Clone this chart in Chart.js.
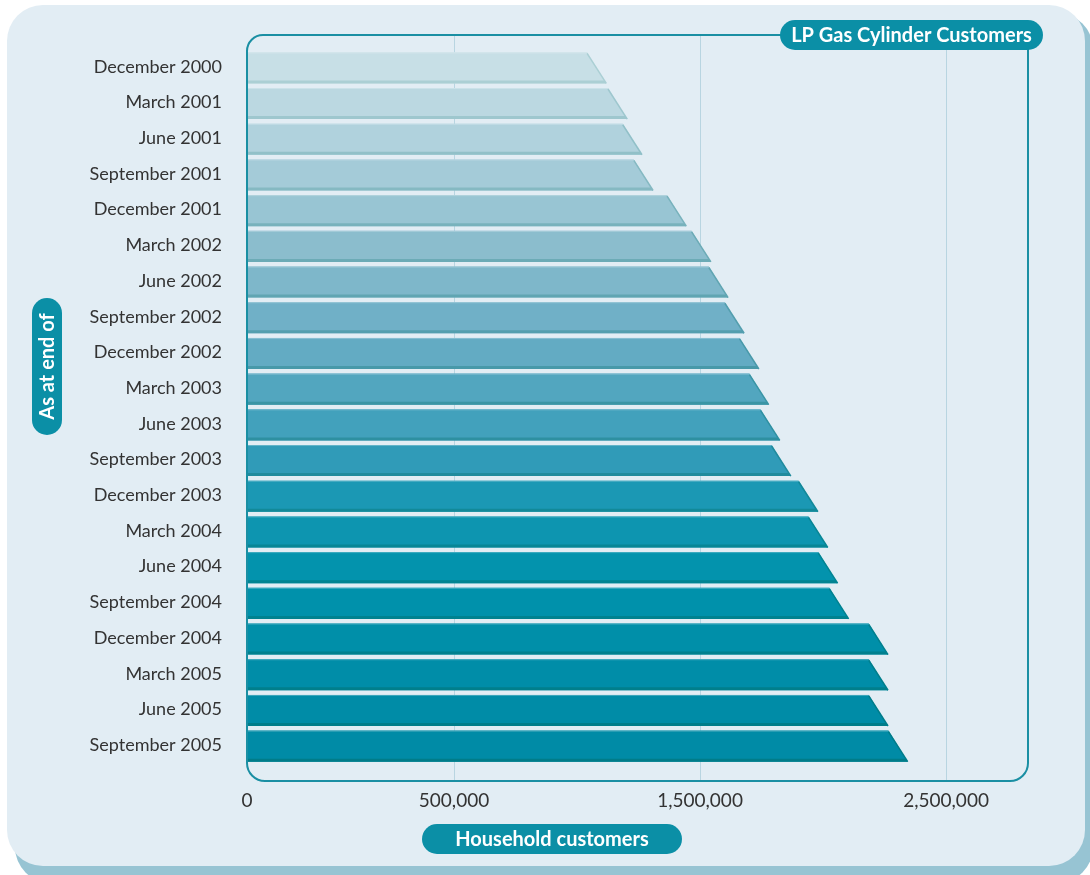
<!DOCTYPE html>
<html>
<head>
<meta charset="utf-8">
<script src="https://cdn.jsdelivr.net/npm/chart.js@4/dist/chart.umd.min.js"></script>
<style>
  html, body { margin: 0; padding: 0; background: #ffffff; }
  #wrap { width: 1090px; height: 875px; }
</style>
</head>
<body>
<div id="wrap"><canvas id="lpChart" width="1090" height="875"></canvas></div>
<script>
// data
const categories = [
    'December 2000', 'March 2001', 'June 2001', 'September 2001',
    'December 2001', 'March 2002', 'June 2002', 'September 2002',
    'December 2002', 'March 2003', 'June 2003', 'September 2003',
    'December 2003', 'March 2004', 'June 2004', 'September 2004',
    'December 2004', 'March 2005', 'June 2005', 'September 2005'
];
const customers = [
    1080000, 1165000, 1225000, 1270000,
    1405000, 1505000, 1575000, 1640000,
    1700000, 1740000, 1785000, 1830000,
    1940000, 1980000, 2020000, 2065000,
    2225000, 2225000, 2225000, 2305000
];
const xTickValues = [0, 500000, 1500000, 2500000];
const xMax = 2830000;

const chartTitle = 'LP Gas Cylinder Customers';
const xTitle = 'Household customers';
const yTitle = 'As at end of';

// bar shades, light at the top to deep teal at the bottom
const barColors = [
    '#c7dfe6', '#bbd8e1', '#b0d2dd', '#a4cbd8',
    '#98c5d3', '#8bbdcd', '#7eb7ca', '#70b0c7',
    '#63abc3', '#52a6bf', '#42a1bc', '#309bb8',
    '#1b98b4', '#0d95b0', '#0393ad', '#0091ab',
    '#008fa9', '#008da8', '#008ca7', '#008ba6'
];

// the original axis gives the first 500,000 a shorter stretch than the later steps
const knotValues = [0, 500000, 1500000, 2500000, xMax];
const knotDecimals = [0, 0.2654, 0.5808, 0.8962, 1];

const TEAL = '#0b8fa6';
const FONT = 'Lato, "Open Sans", sans-serif';

class KneeScale extends Chart.LinearScale {
    toDecimal(v) {
        for (let i = 1; i < knotValues.length; i++) {
            if (v <= knotValues[i] || i === knotValues.length - 1) {
                const t = (v - knotValues[i - 1]) / (knotValues[i] - knotValues[i - 1]);
                return knotDecimals[i - 1] + t * (knotDecimals[i] - knotDecimals[i - 1]);
            }
        }
        return 0;
    }
    fromDecimal(d) {
        for (let i = 1; i < knotDecimals.length; i++) {
            if (d <= knotDecimals[i] || i === knotDecimals.length - 1) {
                const t = (d - knotDecimals[i - 1]) / (knotDecimals[i] - knotDecimals[i - 1]);
                return knotValues[i - 1] + t * (knotValues[i] - knotValues[i - 1]);
            }
        }
        return 0;
    }
    getPixelForValue(v) {
        if (v === null || v === undefined) return NaN;
        return this.getPixelForDecimal(this.toDecimal(v));
    }
    getValueForPixel(p) {
        return this.fromDecimal(this.getDecimalForPixel(p));
    }
}
KneeScale.id = 'knee';
KneeScale.defaults = Chart.LinearScale.defaults;
Chart.register(KneeScale);

function hexToRgb(h) {
    const n = parseInt(h.slice(1), 16);
    return [(n >> 16) & 255, (n >> 8) & 255, n & 255];
}
function mix(c1, c2, t) {
    const a = hexToRgb(c1), b = hexToRgb(c2);
    const r = a.map((v, i) => Math.round(v + (b[i] - v) * t));
    return `rgb(${r[0]},${r[1]},${r[2]})`;
}

function roundRect(ctx, x, y, w, h, r) {
    ctx.beginPath();
    ctx.moveTo(x + r, y);
    ctx.lineTo(x + w - r, y);
    ctx.arcTo(x + w, y, x + w, y + r, r);
    ctx.lineTo(x + w, y + h - r);
    ctx.arcTo(x + w, y + h, x + w - r, y + h, r);
    ctx.lineTo(x + r, y + h);
    ctx.arcTo(x, y + h, x, y + h - r, r);
    ctx.lineTo(x, y + r);
    ctx.arcTo(x, y, x + r, y, r);
    ctx.closePath();
}

function pill(ctx, x, y, w, h, text, rotate) {
    ctx.save();
    ctx.fillStyle = TEAL;
    roundRect(ctx, x, y, w, h, Math.min(w, h) / 2);
    ctx.fill();
    ctx.fillStyle = '#ffffff';
    ctx.font = 'bold 20px ' + FONT;
    ctx.textAlign = 'center';
    ctx.textBaseline = 'middle';
    ctx.translate(x + w / 2, y + h / 2);
    if (rotate) ctx.rotate(-Math.PI / 2);
    ctx.fillText(text, 0, 1);
    ctx.restore();
}

// frame sticks out a little above and below the bar rows
function frameBox(chart) {
    const a = chart.chartArea;
    return { left: a.left, right: a.right + 1, top: a.top - 14, bottom: a.bottom + 18 };
}

const decorPlugin = {
    id: 'decor',
    beforeDraw(chart) {
        const ctx = chart.ctx;
        ctx.save();
        ctx.fillStyle = '#ffffff';
        ctx.fillRect(0, 0, chart.width, chart.height);
        // panel shadow and panel
        ctx.fillStyle = '#97c4d3';
        roundRect(ctx, 15, 13, 1078, 870, 36);
        ctx.fill();
        ctx.fillStyle = '#e2edf4';
        roundRect(ctx, 7, 5, 1078, 861, 36);
        ctx.fill();
        ctx.restore();
    },
    beforeDatasetsDraw(chart) {
        const ctx = chart.ctx;
        const f = frameBox(chart);
        const xs = chart.scales.x;
        ctx.save();
        ctx.strokeStyle = '#b8d5e1';
        ctx.lineWidth = 1;
        xTickValues.forEach(v => {
            if (v === 0) return;
            const px = Math.round(xs.getPixelForValue(v)) + 0.5;
            ctx.beginPath();
            ctx.moveTo(px, f.top);
            ctx.lineTo(px, f.bottom);
            ctx.stroke();
        });
        ctx.restore();
    },
    afterDraw(chart) {
        const ctx = chart.ctx;
        const f = frameBox(chart);
        const pillW = 263, pillH = 30;
        const pillX = f.right + 15 - pillW;
        const pillY = f.top - 15;
        ctx.save();
        ctx.strokeStyle = '#1a8fa3';
        ctx.lineWidth = 2;
        const r1 = 16, r2 = 18;
        ctx.beginPath();
        ctx.moveTo(pillX + 5, f.top);
        ctx.lineTo(f.left + r1, f.top);
        ctx.arcTo(f.left, f.top, f.left, f.top + r1, r1);
        ctx.lineTo(f.left, f.bottom - r2);
        ctx.arcTo(f.left, f.bottom, f.left + r2, f.bottom, r2);
        ctx.lineTo(f.right - r2, f.bottom);
        ctx.arcTo(f.right, f.bottom, f.right, f.bottom - r2, r2);
        ctx.lineTo(f.right, pillY + pillH - 2);
        ctx.stroke();
        ctx.restore();

        pill(ctx, pillX, pillY, pillW, pillH, chartTitle, false);
        pill(ctx, 32, 298, 30, 137, yTitle, true);
        pill(ctx, 422, 824, 260, 30, xTitle, false);
    }
};

// bars with a slanted end and a darker lower edge
const slantBarPlugin = {
    id: 'slantBars',
    beforeDatasetDraw(chart, args) {
        const ctx = chart.ctx;
        const meta = args.meta;
        const n = meta.data.length;
        meta.data.forEach((el, i) => {
            const p = el.getProps(['x', 'y', 'base', 'height'], true);
            const h = p.height;
            const y0 = p.y - h / 2 + 1, y1 = p.y + h / 2 + 1;
            const k = h * 0.31;
            const xTop = p.x - k, xBot = p.x + k;
            const col = barColors[i];
            const dark = mix(col, '#006b66', 0.14 + 0.32 * i / (n - 1));
            const strip = 3;
            ctx.save();
            ctx.fillStyle = col;
            ctx.beginPath();
            ctx.moveTo(p.base, y0);
            ctx.lineTo(xTop, y0);
            ctx.lineTo(xBot, y1);
            ctx.lineTo(p.base, y1);
            ctx.closePath();
            ctx.fill();
            // lower edge
            const xs = xTop + (xBot - xTop) * (h - strip) / h;
            ctx.fillStyle = dark;
            ctx.beginPath();
            ctx.moveTo(p.base, y1 - strip);
            ctx.lineTo(xs, y1 - strip);
            ctx.lineTo(xBot, y1);
            ctx.lineTo(p.base, y1);
            ctx.closePath();
            ctx.fill();
            // slanted edge
            ctx.strokeStyle = dark;
            ctx.lineWidth = 1.5;
            ctx.beginPath();
            ctx.moveTo(xTop, y0 + 1);
            ctx.lineTo(xBot, y1);
            ctx.stroke();
            // light top rim
            ctx.fillStyle = mix(col, '#ffffff', 0.25);
            ctx.fillRect(p.base, y0, xTop - p.base, 1);
            ctx.restore();
        });
        return false;
    }
};

const ctx = document.getElementById('lpChart').getContext('2d');
const myChart = new Chart(ctx, {
    type: 'bar',
    data: {
        labels: categories,
        datasets: [{
            label: chartTitle,
            data: customers,
            backgroundColor: barColors,
            borderWidth: 0,
            barPercentage: 0.87,
            categoryPercentage: 1
        }]
    },
    options: {
        indexAxis: 'y',
        responsive: false,
        animation: false,
        layout: { padding: { left: 0, right: 63, top: 49, bottom: 0 } },
        plugins: {
            legend: { display: false },
            tooltip: { enabled: false }
        },
        scales: {
            x: {
                type: 'knee',
                min: 0,
                max: xMax,
                grid: { display: false, drawTicks: false },
                border: { display: false },
                afterBuildTicks: s => { s.ticks = xTickValues.map(v => ({ value: v })); },
                afterFit: s => { s.height = 112; },
                ticks: {
                    autoSkip: false,
                    maxRotation: 0,
                    padding: 26,
                    color: '#333333',
                    font: { family: FONT, size: 19 },
                    callback: v => v.toLocaleString('en-US')
                }
            },
            y: {
                grid: { display: false, drawTicks: false },
                border: { display: false },
                afterFit: s => { s.width = 247; },
                ticks: {
                    padding: 25,
                    color: '#333333',
                    font: { family: FONT, size: 18 }
                }
            }
        }
    },
    plugins: [decorPlugin, slantBarPlugin]
});
</script>
</body>
</html>
